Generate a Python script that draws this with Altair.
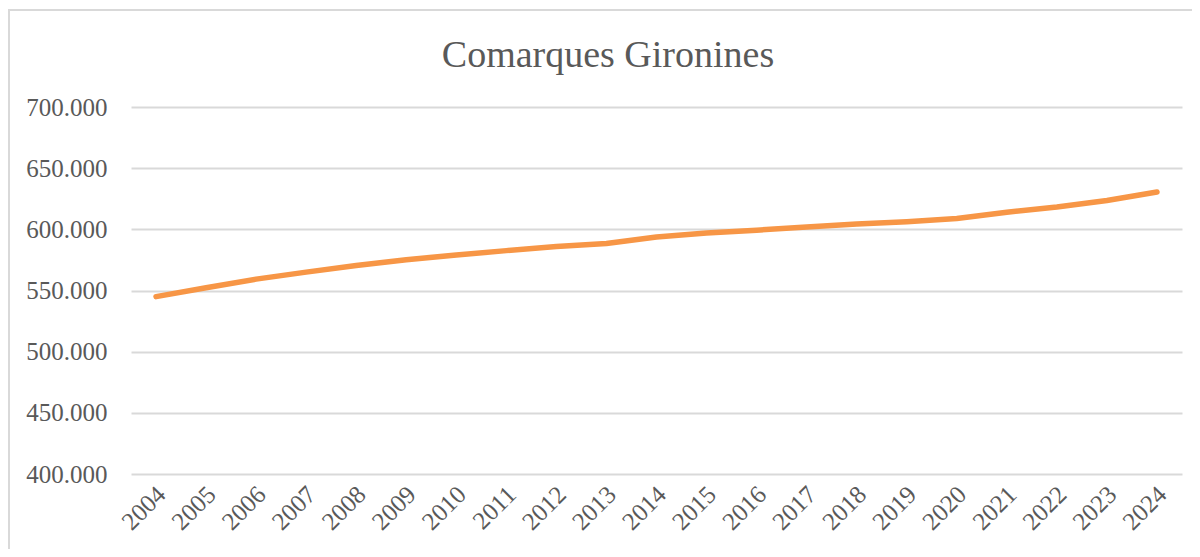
import altair as alt
import pandas as pd

years = [str(y) for y in range(2004, 2025)]
population = [545000, 552300, 559300, 565000, 570500, 575200, 579000, 582600,
              586000, 588500, 593800, 597000, 599300, 601900, 604400, 606200,
              608800, 614000, 618300, 623600, 630500]
y_ticks = [400000, 450000, 500000, 550000, 600000, 650000, 700000]
title_text = ["Comarques Gironines"]

df = pd.DataFrame({"year": years, "pop": population})
tdf = pd.DataFrame({"t": title_text})

FONT = "Liberation Serif"
TEXT = "#595959"
GRID = "#D9D9D9"

line = alt.Chart(df).mark_line(color="#F79646", strokeWidth=5.5, strokeCap="round",
                               strokeJoin="round").encode(
    x=alt.X("year:O", sort=years,
            scale=alt.Scale(type="point", padding=0.5),
            axis=alt.Axis(title=None, labelAngle=-45, labelAlign="right",
                          labelBaseline="middle", labelPadding=16, labelOffset=5,
                          labelFontSize=25, labelFont=FONT, labelColor=TEXT,
                          domain=False, ticks=False, grid=False)),
    y=alt.Y("pop:Q", scale=alt.Scale(domain=[400000, 700000], nice=False, zero=False),
            axis=alt.Axis(title=None, values=y_ticks,
                          labelExpr="replace(format(datum.value, ',.0f'), ',', '.')",
                          labelFontSize=25, labelFont=FONT, labelColor=TEXT,
                          labelPadding=24, domain=False, ticks=False,
                          grid=True, gridColor=GRID, gridWidth=2)),
)

border = alt.Chart(df).mark_rect(fill=None, stroke=GRID, strokeWidth=2).encode(
    x=alt.value(-122), x2=alt.value(1200), y=alt.value(-97), y2=alt.value(700)
)

title = alt.Chart(tdf).mark_text(font=FONT, fontSize=38, color=TEXT, align="center",
                                 baseline="alphabetic").encode(
    text="t:N", x=alt.value(477), y=alt.value(-40)
)

chart = alt.layer(border, title, line).properties(
    width=1051, height=367,
    padding={"left": 123, "top": 99, "right": 10, "bottom": 75},
    autosize=alt.AutoSizeParams(type="none"),
).configure_view(stroke=None)

chart.save("out.html", embed_options={"renderer": "svg", "actions": False})
